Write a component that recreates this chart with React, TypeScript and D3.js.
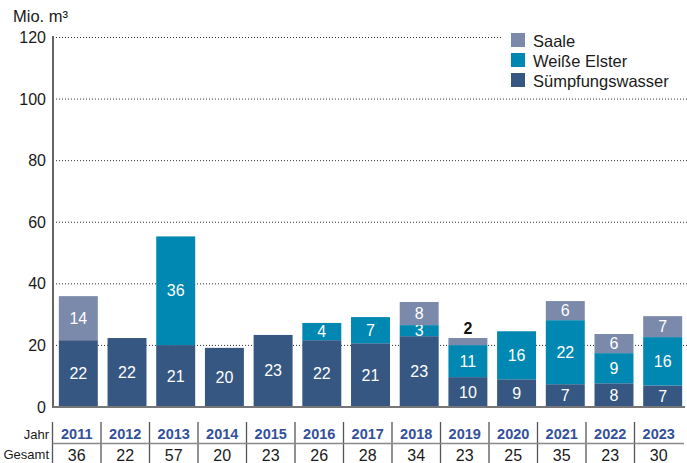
import * as d3 from "d3";

const WIDTH = 687;
const HEIGHT = 463;
const FONT = "'Liberation Sans', Arial, Helvetica, sans-serif";

const years = ["2011", "2012", "2013", "2014", "2015", "2016", "2017", "2018", "2019", "2020", "2021", "2022", "2023"];
const seriesNames = ["Sümpfungswasser", "Weiße Elster", "Saale"];
const COLORS = ["#365782", "#0088b2", "#7b89aa"];

// bar heights as drawn in the picture (Mio. m³)
const sumpf = [21.7, 22.4, 20.1, 19.2, 23.4, 21.7, 20.7, 23.0, 9.7, 9.0, 7.4, 7.7, 7.0];
const elster = [0, 0, 35.3, 0, 0, 5.6, 8.5, 3.6, 10.4, 15.6, 20.8, 9.8, 15.7];
const saale = [14.3, 0, 0, 0, 0, 0, 0, 7.5, 2.3, 0, 6.2, 6.2, 6.8];

// printed labels
const sumpfLabels = [22, 22, 21, 20, 23, 22, 21, 23, 10, 9, 7, 8, 7];
const elsterLabels = [null, null, 36, null, null, 4, 7, 3, 11, 16, 22, 9, 16];
const saaleLabels = [14, null, null, null, null, null, null, 8, 2, null, 6, 6, 7];
const totals = [36, 22, 57, 20, 23, 26, 28, 34, 23, 25, 35, 23, 30];

const yTicks = [0, 20, 40, 60, 80, 100, 120];

export default function App() {
    const axisX = 53;
    const baseY = 407;

    const rows = years.map((y, i) => ({ year: y, s0: sumpf[i], s1: elster[i], s2: saale[i] }));
    const keys = ["s0", "s1", "s2"];
    const labels = [sumpfLabels, elsterLabels, saaleLabels];
    const series = d3.stack<any>().keys(keys)(rows);

    const xScale = d3.scaleBand().domain(years).range([axisX, 688]).paddingInner(0.2).paddingOuter(0.12);
    const yScale = d3.scaleLinear().domain([0, 120]).range([baseY, 37.5]);
    const tableScale = d3.scaleBand().domain(years).range([52.5, 683]);

    const grid = yTicks.map((t) => (
        <g key={t}>
            {t > 0 && (
                <line x1={axisX} x2={WIDTH} y1={yScale(t)} y2={yScale(t)} stroke="#333" strokeWidth={1} strokeDasharray="1,2" />
            )}
            <text x={46} y={yScale(t)} textAnchor="end" dominantBaseline="central" fontSize={16} fill="#1a1a1a">
                {t}
            </text>
        </g>
    ));

    const bars = series.map((layer, si) => (
        <g key={si}>
            {layer.map((d, i) => {
                if (d[1] - d[0] <= 0) return null;
                const x = xScale(years[i]) as number;
                const y0 = yScale(d[0]);
                const y1 = yScale(d[1]);
                const lab = labels[si][i];
                const small = y0 - y1 < 10;
                return (
                    <g key={i}>
                        <rect x={x} y={y1} width={xScale.bandwidth()} height={y0 - y1} fill={COLORS[si]} />
                        {lab !== null && (
                            <text
                                x={x + xScale.bandwidth() / 2}
                                y={small ? y1 - 10 : (y0 + y1) / 2}
                                textAnchor="middle"
                                dominantBaseline="central"
                                fontSize={16}
                                fontWeight={small ? "bold" : "normal"}
                                fill={small ? "#111" : "#fff"}
                            >
                                {lab}
                            </text>
                        )}
                    </g>
                );
            })}
        </g>
    ));

    const legendOrder = [2, 1, 0];
    const legend = (
        <g>
            <rect x={503} y={26} width={184} height={70} fill="#fff" />
            {legendOrder.map((si, k) => (
                <g key={si} transform={`translate(511, ${33 + k * 20})`}>
                    <rect width={14} height={14} fill={COLORS[si]} />
                    <text x={22} y={7.5} dominantBaseline="central" fontSize={16.5} fill="#1a1a1a">
                        {seriesNames[si]}
                    </text>
                </g>
            ))}
        </g>
    );

    const table = (
        <g>
            {years.map((y, i) => (
                <line key={"v" + i} x1={tableScale(y)} x2={tableScale(y)} y1={422} y2={HEIGHT} stroke="#555" strokeWidth={1.3} />
            ))}
            <line x1={52.5} x2={684} y1={443.5} y2={443.5} stroke="#888" strokeWidth={1.5} />
            <text x={49} y={434} textAnchor="end" dominantBaseline="central" fontSize={13} fill="#1a1a1a">Jahr</text>
            <text x={49} y={454} textAnchor="end" dominantBaseline="central" fontSize={13} fill="#1a1a1a">Gesamt</text>
            {years.map((y, i) => {
                const cx = (tableScale(y) as number) + tableScale.bandwidth() / 2;
                return (
                    <g key={"t" + i}>
                        <text x={cx} y={434} textAnchor="middle" dominantBaseline="central" fontSize={14.5} fontWeight="bold" fill="#34509a">
                            {y}
                        </text>
                        <text x={cx} y={455} textAnchor="middle" dominantBaseline="central" fontSize={16} fill="#1a1a1a">
                            {totals[i]}
                        </text>
                    </g>
                );
            })}
        </g>
    );

    return (
        <svg width={WIDTH} height={HEIGHT} style={{ position: "absolute", left: 0, top: 0, fontFamily: FONT }}>
            <text x={13} y={16} dominantBaseline="central" fontSize={16.5} fill="#1a1a1a">Mio. m³</text>
            <g>{grid}</g>
            <g>{bars}</g>
            {legend}
            <line x1={axisX} x2={axisX} y1={36} y2={baseY + 1} stroke="#666" strokeWidth={2} />
            <line x1={axisX} x2={685} y1={baseY} y2={baseY} stroke="#777" strokeWidth={2} />
            {table}
        </svg>
    );
}
